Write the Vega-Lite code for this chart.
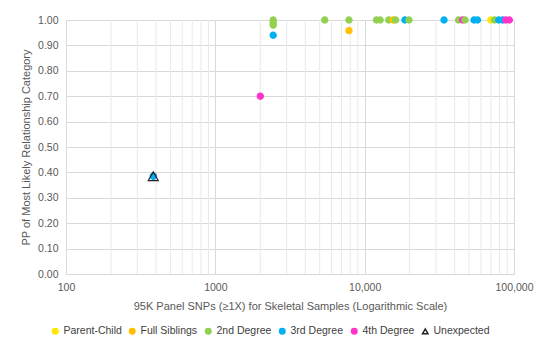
{
  "$schema": "https://vega.github.io/schema/vega-lite/v6.json",
  "width": 448,
  "height": 254,
  "autosize": "none",
  "padding": {"left": 66, "top": 20, "right": 36, "bottom": 85},
  "background": "white",
  "config": {
    "font": "Liberation Sans",
    "view": {"stroke": null},
    "axis": {"labelColor": "#595959", "titleColor": "#595959", "labelFontSize": 10.5, "titleFontSize": 11, "titleFontWeight": "normal", "gridColor": "#d9d9d9", "domainColor": "#d9d9d9", "ticks": false}
  },
  "data": {
    "values": [
      {"snps": 2440, "pp": 1.0, "cat": "2nd Degree"},
      {"snps": 2440, "pp": 0.99, "cat": "2nd Degree"},
      {"snps": 2440, "pp": 0.98, "cat": "2nd Degree"},
      {"snps": 2440, "pp": 0.94, "cat": "3rd Degree"},
      {"snps": 2000, "pp": 0.70, "cat": "4th Degree"},
      {"snps": 5400, "pp": 1.0, "cat": "2nd Degree"},
      {"snps": 7850, "pp": 1.0, "cat": "2nd Degree"},
      {"snps": 7850, "pp": 0.958, "cat": "Full Siblings"},
      {"snps": 12000, "pp": 1.0, "cat": "2nd Degree"},
      {"snps": 12700, "pp": 1.0, "cat": "2nd Degree"},
      {"snps": 14500, "pp": 1.0, "cat": "2nd Degree"},
      {"snps": 15500, "pp": 1.0, "cat": "Full Siblings"},
      {"snps": 16100, "pp": 1.0, "cat": "2nd Degree"},
      {"snps": 18600, "pp": 1.0, "cat": "3rd Degree"},
      {"snps": 19800, "pp": 1.0, "cat": "2nd Degree"},
      {"snps": 34000, "pp": 1.0, "cat": "3rd Degree"},
      {"snps": 42500, "pp": 1.0, "cat": "2nd Degree"},
      {"snps": 45300, "pp": 1.0, "cat": "4th Degree"},
      {"snps": 47000, "pp": 1.0, "cat": "2nd Degree"},
      {"snps": 54000, "pp": 1.0, "cat": "3rd Degree"},
      {"snps": 57000, "pp": 1.0, "cat": "3rd Degree"},
      {"snps": 70000, "pp": 1.0, "cat": "Parent-Child"},
      {"snps": 74000, "pp": 1.0, "cat": "2nd Degree"},
      {"snps": 79000, "pp": 1.0, "cat": "3rd Degree"},
      {"snps": 84000, "pp": 1.0, "cat": "3rd Degree"},
      {"snps": 88000, "pp": 1.0, "cat": "4th Degree"},
      {"snps": 93000, "pp": 1.0, "cat": "4th Degree"},
      {"snps": 386, "pp": 0.385, "cat": "4th Degree"},
      {"snps": 384, "pp": 0.385, "cat": "3rd Degree"},
      {"snps": 384, "pp": 0.385, "cat": "Unexpected"}
    ]
  },
  "layer": [
    {
      "mark": {"type": "rule", "color": "#e9e9e9", "strokeWidth": 1},
      "data": {"values": [{"v": 200},{"v": 300},{"v": 400},{"v": 500},{"v": 600},{"v": 700},{"v": 800},{"v": 900},{"v": 2000},{"v": 3000},{"v": 4000},{"v": 5000},{"v": 6000},{"v": 7000},{"v": 8000},{"v": 9000},{"v": 20000},{"v": 30000},{"v": 40000},{"v": 50000},{"v": 60000},{"v": 70000},{"v": 80000},{"v": 90000}]},
      "encoding": {"x": {"field": "v", "type": "quantitative", "scale": {"type": "log", "domain": [100, 100000]}}}
    },
    {
      "mark": {"type": "point", "filled": true, "opacity": 1, "strokeWidth": 1.2},
      "encoding": {
        "x": {"field": "snps", "type": "quantitative", "scale": {"type": "log", "domain": [100, 100000]},
          "title": "95K Panel SNPs (≥1X) for Skeletal Samples (Logarithmic Scale)",
          "axis": {"values": [100, 1000, 10000, 100000], "labelFlush": false, "labelExpr": "datum.value == 1000 || datum.value == 100 ? format(datum.value, 'd') : format(datum.value, ',')", "grid": true, "gridColor": "#d9d9d9", "labelPadding": 8, "titlePadding": 8}},
        "y": {"field": "pp", "type": "quantitative", "scale": {"domain": [0, 1]},
          "title": "PP of Most Likely Relationship Category",
          "axis": {"values": [0, 0.1, 0.2, 0.3, 0.4, 0.5, 0.6, 0.7, 0.8, 0.9, 1.0], "format": ".2f", "labelPadding": 8, "titlePadding": 6, "domain": true}},
        "fill": {"field": "cat", "type": "nominal",
          "scale": {"domain": ["Parent-Child", "Full Siblings", "2nd Degree", "3rd Degree", "4th Degree", "Unexpected"], "range": ["#ffe600", "#ffc000", "#92d050", "#00b0f0", "#ff33cc", "transparent"]},
          "legend": {"title": null, "orient": "none", "legendX": -16, "legendY": 306, "direction": "horizontal", "columns": 6, "columnPadding": 4, "labelFontSize": 10.5, "labelColor": "#404040", "labelOffset": 3, "symbolSize": 30, "symbolStrokeWidth": 1.5}},
        "stroke": {"field": "cat", "type": "nominal",
          "scale": {"domain": ["Parent-Child", "Full Siblings", "2nd Degree", "3rd Degree", "4th Degree", "Unexpected"], "range": ["#ffe600", "#ffc000", "#92d050", "#00b0f0", "#ff33cc", "#222222"]}},
        "shape": {"field": "cat", "type": "nominal",
          "scale": {"domain": ["Parent-Child", "Full Siblings", "2nd Degree", "3rd Degree", "4th Degree", "Unexpected"], "range": ["circle", "circle", "circle", "circle", "circle", "triangle-up"]}},
        "size": {"condition": {"test": "datum.cat == 'Unexpected'", "value": 100}, "value": 38}
      }
    }
  ]
}
